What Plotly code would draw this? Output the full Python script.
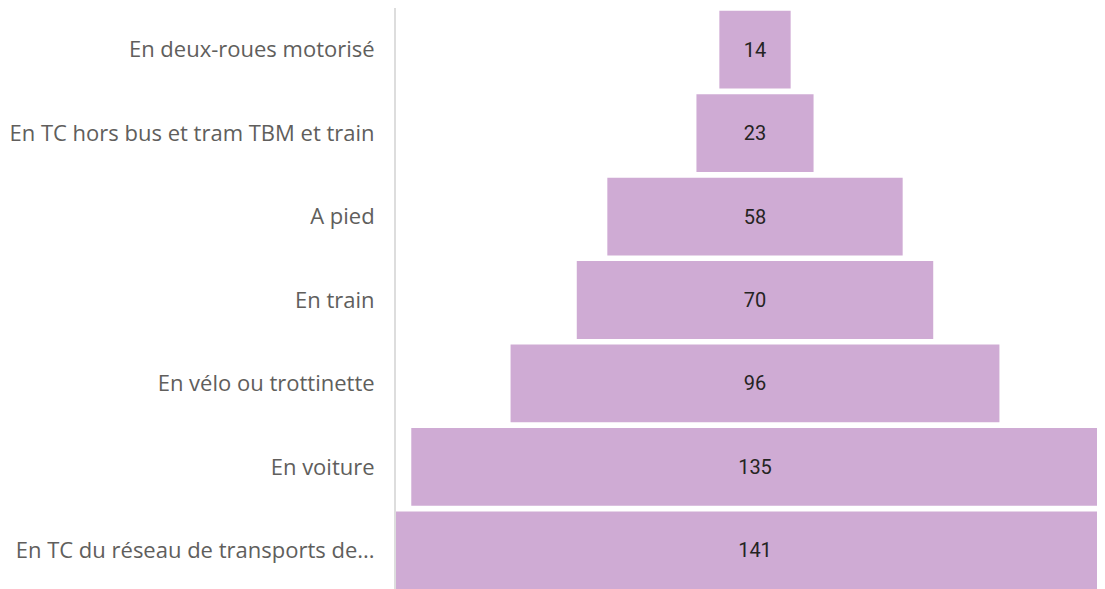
import plotly.graph_objects as go

# Modes de déplacement, du haut vers le bas
modes = [
    "En deux-roues motorisé",
    "En TC hors bus et tram TBM et train",
    "A pied",
    "En train",
    "En vélo ou trottinette",
    "En voiture",
    "En TC du réseau de transports de...",
]
counts = [14, 23, 58, 70, 96, 135, 141]

half = max(counts) / 2

fig = go.Figure(go.Funnel(
    y=modes,
    x=counts,
    textinfo="value",
    textposition="inside",
    insidetextfont=dict(color="#252423", size=20, family="Roboto"),
    marker=dict(color="#CFABD4", line=dict(width=0)),
    connector=dict(visible=False),
))

fig.update_layout(
    width=1106, height=584,
    margin=dict(l=388, r=0, t=0, b=0),
    paper_bgcolor="white", plot_bgcolor="white",
    font=dict(family="Open Sans", color="#605E5C"),
    funnelgap=0.068,
    showlegend=False,
)
fig.update_yaxes(
    showline=True, linecolor="#DDDDDD", linewidth=2,
    ticks="", tickfont=dict(size=22, color="#605E5C", family="Open Sans"),
    ticklabelstandoff=15, automargin=False,
)
fig.update_xaxes(visible=False, range=[-half, half])

fig.write_html("out.html")
